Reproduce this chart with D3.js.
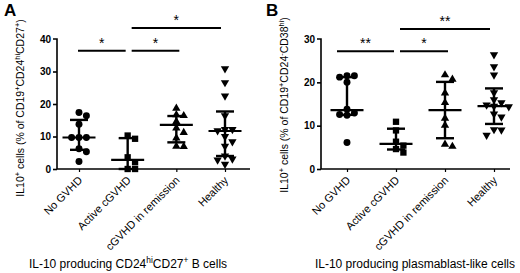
<!DOCTYPE html>
<html><head><meta charset="utf-8">
<script src="https://cdn.jsdelivr.net/npm/d3@7"></script>
<style>
body{margin:0;background:#fff;}
text{font-family:Arial,"Liberation Sans",sans-serif;fill:#000;}
</style></head>
<body><svg id="c" width="520" height="273"></svg>
<script>
const categories = ["No GVHD", "Active cGVHD", "cGVHD in remission", "Healthy"];

// Panel A: IL-10 producing CD24hiCD27+ B cells
const aNoGVHD    = [17.4, 16.4, 13.8, 9.7, 9.7, 9.7, 6.2, 5.3, 2.3];
const aActive    = [10.3, 9.3, 3.6, 2.1, 0.0, 0.0];
const aRemission = [18.7, 16.7, 16.4, 14.6, 12.6, 11.2, 9.5, 7.0, 6.9];
const aHealthy   = [30.9, 26.6, 22.5, 16.4, 12.2, 12.2, 11.8, 10.0, 8.4, 7.0, 4.0, 3.1, 2.8, 1.5];
const aMedian = [9.7, 2.8, 13.6, 11.7];
const aQ1     = [5.9, 0.0, 8.2, 4.0];
const aQ3     = [15.1, 9.5, 16.3, 17.7];
const aTicks  = [0, 10, 20, 30, 40];
const aSig    = [{from: 0, to: 1, level: 36.4, label: "*"}, {from: 1, to: 2, level: 36.4, label: "*"}, {from: 1, to: 3, level: 43.4, label: "*"}];

// Panel B: IL-10 producing plasmablast-like cells
const bNoGVHD    = [21.5, 21.5, 21.2, 20.0, 13.8, 12.9, 12.6, 12.4, 6.1];
const bActive    = [10.9, 8.9, 6.3, 5.4, 4.6, 3.8];
const bRemission = [21.7, 20.7, 17.5, 15.3, 11.7, 10.1, 5.7, 5.2];
const bHealthy   = [26.4, 23.6, 21.7, 17.6, 16.0, 15.3, 14.8, 14.5, 14.4, 12.7, 12.0, 9.1, 9.0, 7.8];
const bMedian = [13.6, 5.8, 13.6, 14.5];
const bQ1     = [12.5, 4.5, 7.1, 10.4];
const bQ3     = [21.2, 9.3, 20.1, 18.6];
const bTicks  = [0, 10, 20, 30];
const bSig    = [{from: 0, to: 1, level: 27.2, label: "**"}, {from: 1, to: 2, level: 27.2, label: "*"}, {from: 1, to: 3, level: 32.3, label: "**"}];

const svg = d3.select("#c");
const symbols = [d3.symbolCircle, d3.symbolSquare, d3.symbolTriangle, d3.symbolTriangle];
const rotations = [0, 0, 0, 180];

function supText(sel, parts) {
  parts.forEach(p => {
    const t = sel.append("tspan").text(p[0]);
    if (p[1]) t.attr("baseline-shift", "super").attr("font-size", "0.7em");
  });
}

function panel(o) {
  const g = svg.append("g");
  const x = d3.scalePoint().domain(categories).range(o.xr);
  const y = d3.scaleLinear().domain([0, o.ymax]).range([169, 39]);

  // y axis
  const ya = g.append("g").attr("transform", `translate(${o.ax},0)`)
    .call(d3.axisLeft(y).tickValues(o.ticks).tickSize(4).tickPadding(2));
  ya.select(".domain").attr("d", `M-4,${y(o.ymax)}H0V${y(0)}`).attr("stroke-width", 1.6);
  ya.selectAll(".tick line").attr("stroke-width", 1.6);
  ya.selectAll(".tick text").attr("font-size", 10).attr("font-weight", "bold")
    .style("font-family", "Arial, 'Liberation Sans', sans-serif");
  ya.selectAll(".tick").filter(d => d === o.ymax).select("line").remove();

  // x axis
  const xa = g.append("g").attr("transform", `translate(0,${y(0)})`)
    .call(d3.axisBottom(x).tickSize(3).tickFormat(""));
  xa.select(".domain").attr("d", `M${o.ax},0H${o.xend}`).attr("stroke-width", 1.6);
  xa.selectAll(".tick line").attr("stroke-width", 1.2);

  categories.forEach((c, i) => {
    g.append("text").attr("transform", `translate(${x(c) + 4},${y(0) + 12}) rotate(-45)`)
      .attr("text-anchor", "end").attr("font-size", 11).text(c);
  });

  // points with simple beeswarm
  const step = 7.4;
  o.groups.forEach((vals, i) => {
    const placed = [];
    vals.forEach(v => {
      const py = y(v);
      const cands = [0, step, -step, 2 * step, -2 * step, 3 * step, -3 * step];
      let off = 0;
      for (const c of cands) {
        if (!placed.some(p => p.off === c && Math.abs(p.py - py) < 6)) { off = c; break; }
      }
      placed.push({off, py, v});
    });
    g.selectAll(null).data(placed).enter().append("path")
      .attr("d", d3.symbol().type(symbols[i]).size(i === 1 ? 40 : (i === 0 ? 38 : 30)))
      .attr("transform", d => `translate(${x(categories[i]) + d.off},${d.py}) rotate(${rotations[i]})`)
      .attr("fill", "#000");
  });

  // median and IQR
  categories.forEach((c, i) => {
    const cx = x(c);
    g.append("line").attr("x1", cx).attr("x2", cx).attr("y1", y(o.q1[i])).attr("y2", y(o.q3[i]))
      .attr("stroke", "#000").attr("stroke-width", 2.4);
    g.append("line").attr("x1", cx - 16.5).attr("x2", cx + 16.5).attr("y1", y(o.med[i])).attr("y2", y(o.med[i]))
      .attr("stroke", "#000").attr("stroke-width", 2.2);
    [o.q1[i], o.q3[i]].forEach(q => {
      g.append("line").attr("x1", cx - 9).attr("x2", cx + 9).attr("y1", y(q)).attr("y2", y(q))
        .attr("stroke", "#000").attr("stroke-width", 2.4);
    });
  });

  // significance
  o.sig.forEach(s => {
    const x1 = x(categories[s.from]) + (s.from === 0 ? o.s0 : 4);
    const x2 = x(categories[s.to]) + (s.to === 3 ? -4 : (s.to === 1 ? -2 : 3));
    g.append("line").attr("x1", x1).attr("x2", x2).attr("y1", y(s.level)).attr("y2", y(s.level))
      .attr("stroke", "#000").attr("stroke-width", 2);
    g.append("text").attr("x", (x1 + x2) / 2).attr("y", y(s.level) - 3)
      .attr("text-anchor", "middle").attr("font-size", 14).text(s.label);
  });

  // y label
  const yl = g.append("text").attr("transform", `translate(${o.ylx},${o.yly}) rotate(-90)`)
    .attr("text-anchor", "middle").attr("font-size", 10.5);
  supText(yl, o.ylab);

  // bottom title
  const bt = g.append("text").attr("x", o.btx).attr("y", 268).attr("text-anchor", "middle").attr("font-size", 12);
  supText(bt, o.btitle);

  // panel letter
  g.append("text").attr("x", o.lx).attr("y", 16).attr("font-size", 17).attr("font-weight", "bold").text(o.letter);
}

panel({
  xr: [79, 225], ax: 57, xend: 250, ymax: 40, ticks: aTicks,
  groups: [aNoGVHD, aActive, aRemission, aHealthy], med: aMedian, q1: aQ1, q3: aQ3, sig: aSig, s0: -1,
  ylx: 24, yly: 108,
  ylab: [["IL10"], ["+", 1], [" cells (% of CD19"], ["+", 1], ["CD24"], ["hi", 1], ["CD27"], ["+", 1], [")"]],
  btx: 128, btitle: [["IL-10 producing CD24"], ["hi", 1], ["CD27"], ["+", 1], [" B cells"]],
  lx: 4, letter: "A"
});
panel({
  xr: [347, 494], ax: 321, xend: 510, ymax: 30, ticks: bTicks,
  groups: [bNoGVHD, bActive, bRemission, bHealthy], med: bMedian, q1: bQ1, q3: bQ3, sig: bSig, s0: -10,
  ylx: 288, yly: 105,
  ylab: [["IL10"], ["+", 1], [" cells (% of CD19"], ["+", 1], ["CD24"], ["-", 1], ["CD38"], ["hi", 1], [")"]],
  btx: 415, btitle: [["IL-10 producing plasmablast-like cells"]],
  lx: 266, letter: "B"
});
</script></body></html>
